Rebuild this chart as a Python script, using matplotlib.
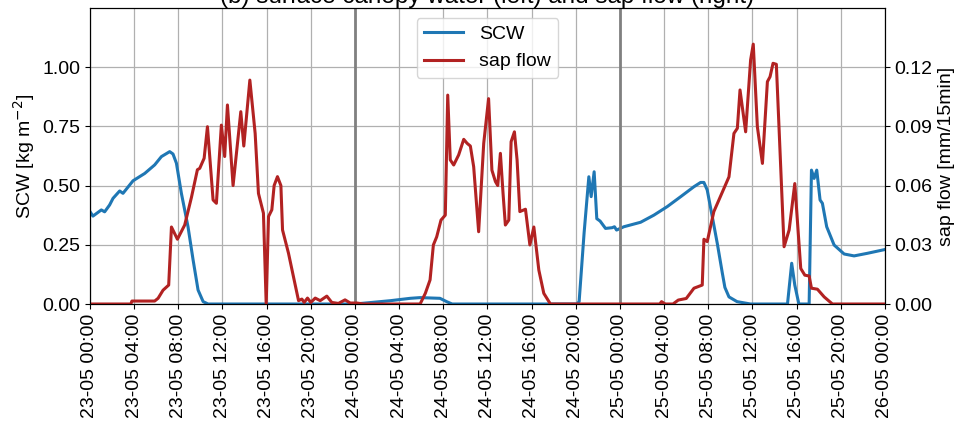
import matplotlib
matplotlib.use("Agg")
import matplotlib.pyplot as plt
import matplotlib.dates as mdates
import numpy as np
import pandas as pd

plt.rcParams["font.family"] = ["Liberation Sans", "DejaVu Sans"]

# hours since 23-05 00:00
scw_hours = [0, 0.27, 1.03, 1.33, 1.78, 2.09, 2.69, 2.99, 3.9, 4.96, 5.86, 6.47, 7.22, 7.52,
             7.83, 8.28, 8.88, 9.34, 9.79, 10.25, 10.7, 24.0, 27.2, 29.0, 29.9, 31.7, 32.3,
             32.8, 44.1, 44.3, 44.75, 45.18, 45.39, 45.66, 45.9, 46.2, 46.69, 47.29, 47.5, 47.69,
             48.35, 49.87, 51.07, 52.28, 53.5, 54.7, 55.3, 55.6, 55.9, 56.36, 56.81, 57.27,
             57.5, 57.87, 58.6, 59.83, 63.17, 63.55, 63.83, 64.2, 65.13, 65.34, 65.58, 65.82,
             66.12, 66.33, 66.72, 67.39, 68.3, 69.2, 70.41, 72.0]
scw_vals = [0.39, 0.371, 0.397, 0.389, 0.418, 0.446, 0.477, 0.467, 0.52, 0.551, 0.587, 0.622,
            0.643, 0.633, 0.594, 0.467, 0.326, 0.186, 0.059, 0.01, 0.0, 0.0, 0.014, 0.024,
            0.027, 0.024, 0.01, 0.0, 0.0, 0.01, 0.3, 0.537, 0.453, 0.558, 0.36, 0.35, 0.319,
            0.322, 0.326, 0.312, 0.326, 0.345, 0.375, 0.411, 0.453, 0.495, 0.513, 0.513, 0.481,
            0.368, 0.256, 0.13, 0.07, 0.03, 0.01, 0.0, 0.0, 0.172, 0.08, 0.0, 0.0, 0.565,
            0.53, 0.565, 0.439, 0.425, 0.326, 0.249, 0.211, 0.203, 0.214, 0.23]

sap_hours = [0, 3.7, 3.8, 5.86, 6.17, 6.62, 7.13, 7.38, 7.92, 8.58, 9.19, 9.73, 9.94, 10.34,
             10.64, 11.15, 11.45, 11.9, 12.2, 12.45, 12.96, 13.66, 13.93, 14.48, 14.96, 15.26,
             15.71, 15.96, 16.17, 16.47, 16.68, 16.98, 17.29, 17.44, 17.98, 18.43, 18.89,
             19.19, 19.4, 19.7, 20.0, 20.4, 20.85, 21.45, 21.9, 22.5, 23.1, 23.57, 24.17, 24.8,
             29.9, 30.37, 30.8, 31.1, 31.4, 31.79, 32.18, 32.4, 32.63, 32.94, 33.39, 33.85,
             34.15, 34.45, 34.75, 35.2, 35.66, 36.1, 36.4, 36.72, 36.93, 37.17, 37.41, 37.62,
             37.93, 38.14, 38.44, 38.68, 38.93, 39.44, 39.84, 40.2, 40.65, 41.1, 41.7, 51.6,
             51.76, 52.1, 52.8, 53.28, 54.0, 54.7, 55.45, 55.6, 55.9, 56.5, 56.96, 57.87,
             58.32, 58.63, 58.87, 59.38, 59.83, 60.07, 60.44, 60.9, 61.35, 61.59, 61.86,
             62.16, 62.86, 63.32, 63.83, 64.37, 64.74, 65.13, 65.34, 65.88, 66.49, 67.24, 72.0]
sap_vals = [0, 0, 0.0015, 0.0015, 0.0029, 0.007, 0.0096, 0.039, 0.0328, 0.040, 0.054, 0.068,
            0.0687, 0.0738, 0.0898, 0.0527, 0.051, 0.0906, 0.0747, 0.1008, 0.060, 0.0974,
            0.080, 0.1134, 0.0864, 0.056, 0.046, 0.0, 0.0443, 0.0477, 0.060, 0.0645, 0.060,
            0.0375, 0.0257, 0.0138, 0.0017, 0.0025, 0.0008, 0.003, 0.0008, 0.003, 0.0017,
            0.004, 0.0008, 0.0003, 0.0021, 0.0005, 0.0005, 0.0, 0.0, 0.0054, 0.0122, 0.0299,
            0.034, 0.0425, 0.045, 0.1058, 0.073, 0.0704, 0.0755, 0.0834, 0.0814, 0.080,
            0.0695, 0.0366, 0.0814, 0.104, 0.0678, 0.062, 0.060, 0.0763, 0.056, 0.040, 0.0425,
            0.0822, 0.0872, 0.073, 0.0468, 0.048, 0.0299, 0.039, 0.0172, 0.0054, 0.0, 0.0,
            0.0012, 0.0, 0.0, 0.002, 0.0028, 0.008, 0.0096, 0.0328, 0.0316, 0.0468, 0.0527,
            0.0644, 0.0864, 0.089, 0.1084, 0.0872, 0.1236, 0.1316, 0.0898, 0.0712, 0.1126,
            0.1151, 0.1219, 0.1214, 0.029, 0.0375, 0.061, 0.018, 0.0146, 0.0142, 0.008,
            0.0075, 0.0036, 0.0, 0.0]

day_lines = ["2021-05-24 00:00", "2021-05-25 00:00"]

start = pd.Timestamp("2021-05-23 00:00")
scw_time = start + pd.to_timedelta(scw_hours, unit="h")
sap_time = start + pd.to_timedelta(sap_hours, unit="h")

fig = plt.figure(figsize=(9.55, 4.22), dpi=100)
ax = fig.add_axes([0.0942, 0.2796, 0.8325, 0.7014])
ax2 = ax.twinx()

l1, = ax.plot(scw_time, scw_vals, color="#1f77b4", lw=2.2, label="SCW")
l2, = ax2.plot(sap_time, sap_vals, color="#b22222", lw=2.2, label="sap flow")
for d in day_lines:
    ax.axvline(pd.Timestamp(d), color="#808080", lw=2)

ax.set_xlim(start, start + pd.Timedelta(hours=72))
ax.set_ylim(0, 1.249)
ax.set_yticks([0, 0.25, 0.5, 0.75, 1.0])
ax2.set_ylim(0, 0.1499)
ax2.set_yticks([0, 0.03, 0.06, 0.09, 0.12])
ax.yaxis.set_major_formatter(matplotlib.ticker.FormatStrFormatter("%.2f"))
ax2.yaxis.set_major_formatter(matplotlib.ticker.FormatStrFormatter("%.2f"))

ax.xaxis.set_major_locator(mdates.HourLocator(byhour=[0, 4, 8, 12, 16, 20]))
ax.xaxis.set_major_formatter(mdates.DateFormatter("%d-%m %H:%M"))
plt.setp(ax.get_xticklabels(), rotation=90)

ax.grid(True, color="#b0b0b0", lw=0.9)
ax.tick_params(labelsize=14)
ax2.tick_params(labelsize=14)
ax.set_ylabel("SCW [kg m$^{-2}$]", fontsize=14)
ax2.set_ylabel("sap flow [mm/15min]", fontsize=14)
# title sits partly above the figure edge, as in the original
ax.set_title("(b) surface canopy water (left) and sap flow (right)", fontsize=17.5, pad=3)

ax.legend([l1, l2], ["SCW", "sap flow"], loc="upper center", fontsize=14)

fig.savefig("out.png", dpi=100)
